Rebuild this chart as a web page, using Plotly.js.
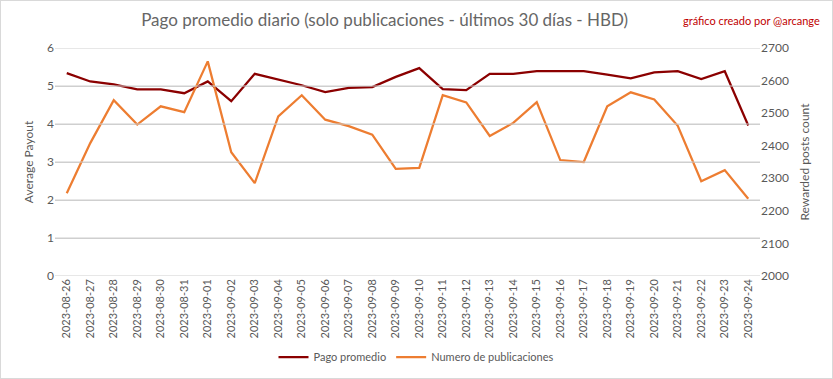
<!DOCTYPE html>
<html>
<head>
<meta charset="utf-8">
<script src="https://cdn.plot.ly/plotly-3.0.1.min.js"></script>
<style>
html,body{margin:0;padding:0;background:#fff;}
#wrap{width:833px;height:379px;box-sizing:border-box;border:1px solid #d9d9d9;position:relative;overflow:hidden;background:#fff;}
#chart{position:absolute;left:-1px;top:-1px;width:833px;height:379px;}
</style>
</head>
<body>
<div id="wrap"><div id="chart"></div></div>
<script>
const dates = ["2023-08-26","2023-08-27","2023-08-28","2023-08-29","2023-08-30","2023-08-31","2023-09-01","2023-09-02","2023-09-03","2023-09-04","2023-09-05","2023-09-06","2023-09-07","2023-09-08","2023-09-09","2023-09-10","2023-09-11","2023-09-12","2023-09-13","2023-09-14","2023-09-15","2023-09-16","2023-09-17","2023-09-18","2023-09-19","2023-09-20","2023-09-21","2023-09-22","2023-09-23","2023-09-24"];
const pagoPromedio = [5.34,5.12,5.04,4.91,4.91,4.81,5.12,4.60,5.32,5.18,5.02,4.84,4.95,4.97,5.24,5.47,4.92,4.89,5.32,5.32,5.39,5.39,5.39,5.30,5.20,5.36,5.39,5.18,5.39,3.96];
const numeroPublicaciones = [2254,2408,2540,2465,2521,2503,2659,2380,2285,2490,2555,2480,2460,2434,2329,2332,2555,2533,2430,2470,2534,2356,2350,2521,2564,2542,2461,2291,2325,2237];
const leftTicks = [0, 1, 2, 3, 4, 5, 6];

const gray = '#595959';
const fontFam = 'Lato, "Open Sans", sans-serif';

const traces = [
  {x: dates, y: pagoPromedio, name: 'Pago promedio', type: 'scatter', mode: 'lines',
   line: {color: '#8B0000', width: 2.25}, xaxis: 'x', yaxis: 'y'},
  {x: dates, y: numeroPublicaciones, name: 'Numero de publicaciones', type: 'scatter', mode: 'lines',
   line: {color: '#ED7D31', width: 2.25}, xaxis: 'x', yaxis: 'y2'}
];

const gridShapes = leftTicks.map(v => ({
  type: 'line', xref: 'paper', yref: 'y', x0: 0, x1: 1, y0: v, y1: v,
  line: {color: '#cfcfcf', width: 1}, layer: 'above'
}));

const layout = {
  width: 833, height: 379,
  margin: {l: 55, r: 73, t: 48, b: 103},
  paper_bgcolor: 'rgba(0,0,0,0)', plot_bgcolor: 'rgba(0,0,0,0)',
  font: {family: fontFam, color: gray, size: 12},
  title: {text: 'Pago promedio diario (solo publicaciones - últimos 30 días - HBD)',
          font: {family: fontFam, size: 17, color: '#666666'},
          x: 0.4676, xref: 'paper', xanchor: 'center', y: 0.947, yref: 'container', yanchor: 'middle'},
  showlegend: true,
  legend: {orientation: 'h', x: 0.5, xref: 'container', xanchor: 'center', y: 0.058, yref: 'container', yanchor: 'middle',
           font: {size: 11, color: gray}},
  xaxis: {type: 'category', range: [-0.5, dates.length - 0.5], tickangle: -90, tickfont: {size: 11, color: gray},
          showgrid: false, zeroline: false, showline: false, ticks: ''},
  yaxis: {range: [0, 6], tickvals: leftTicks, tickfont: {size: 12, color: gray}, showgrid: true, gridcolor: '#cfcfcf', gridwidth: 1,
          zeroline: false, showline: false, ticks: '',
          title: {text: 'Average Payout', font: {size: 12, color: gray}, standoff: 10}},
  yaxis2: {range: [2000, 2700], dtick: 100, overlaying: 'y', side: 'right', showgrid: false, zeroline: false,
           tickfont: {size: 12, color: gray}, ticks: '',
           title: {text: 'Rewarded posts count', font: {size: 12, color: gray}, standoff: 12}},
  shapes: gridShapes,
  annotations: [{text: 'gráfico creado por @arcange', xref: 'paper', yref: 'paper', x: (822 - 55) / 705, y: (379 - 20 - 103) / 228,
                 xanchor: 'right', yanchor: 'middle', showarrow: false, font: {size: 11, color: '#C00000', family: fontFam}}]
};

Plotly.newPlot('chart', traces, layout, {displayModeBar: false});
</script>
</body>
</html>
